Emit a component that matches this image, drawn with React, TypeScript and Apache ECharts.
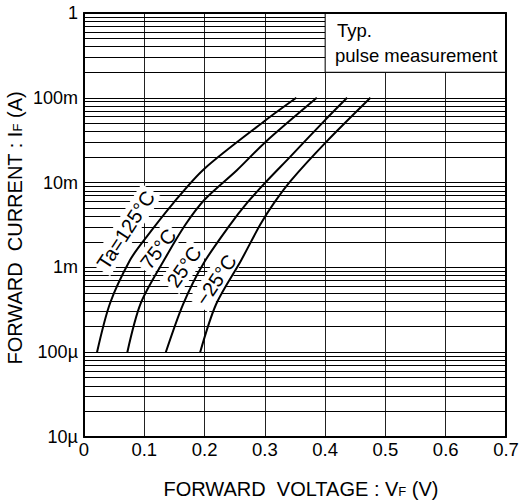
import React, { useEffect, useRef } from "react";
import * as echarts from "echarts";

// Forward voltage (V) / forward current (A) per ambient temperature
const V_125 = [0.0216, 0.0432, 0.0764, 0.0997, 0.1478, 0.1993, 0.3007, 0.3522];
const I_125 = [1e-4, 3.78e-4, 1.22e-3, 2.1e-3, 5.7e-3, 1.45e-2, 5.4e-2, 0.1];

const V_75 = [0.0719, 0.0942, 0.1329, 0.1678, 0.201, 0.2536, 0.3007, 0.3862];
const I_75 = [1e-4, 3.78e-4, 1.22e-3, 3.16e-3, 6.4e-3, 1.4e-2, 3.0e-2, 0.1];

const V_25 = [0.1357, 0.1645, 0.1977, 0.2425, 0.2708, 0.3007, 0.3415, 0.4003, 0.4364];
const I_25 = [1e-4, 3.7e-4, 1.1e-3, 3.2e-3, 5.8e-3, 1.0e-2, 2.0e-2, 5.5e-2, 0.1];

const V_M25 = [0.1927, 0.2193, 0.2603, 0.2924, 0.3156, 0.3439, 0.4015, 0.4751];
const I_M25 = [1e-4, 3.7e-4, 1.2e-3, 3.2e-3, 5.8e-3, 1.07e-2, 3.0e-2, 0.1];

// curve labels (anchor in data coords)
const LABEL_TEXT = ["Ta=125°C", "75°C", "25°C", "−25°C"];
const LABEL_V = [0.0694, 0.123, 0.166, 0.219];
const LABEL_I = [2.76e-3, 1.65e-3, 1.02e-3, 7.1e-4];
const LABEL_ANGLE = [57, 52, 55, 56];

// axis ticks
const X_TICKS = [0, 0.1, 0.2, 0.3, 0.4, 0.5, 0.6, 0.7];
const Y_TICK_LABELS: Record<string, string> = {
  "-5": "10µ",
  "-4": "100µ",
  "-3": "1m",
  "-2": "10m",
  "-1": "100m",
  "0": "1",
};
const DECADES = [1e-5, 1e-4, 1e-3, 1e-2, 1e-1];
const MINOR_MULT = [2, 3, 4, 5, 6, 7, 8, 9];

// note box (data coords)
const BOX_V = [0.4, 0.7];
const BOX_I = [0.2, 1];

const FONT = "'Liberation Sans', Arial, sans-serif";

const zip = (v: number[], i: number[]) => v.map((x, k) => [x, i[k]]);

export default function App() {
  const ref = useRef<HTMLDivElement>(null);
  useEffect(() => {
    if (!ref.current) return;
    const chart = echarts.init(ref.current, undefined, { renderer: "svg" });
    const minorLines: any[] = [];
    DECADES.forEach((d) =>
      MINOR_MULT.forEach((m) => minorLines.push({ yAxis: d * m }))
    );
    const curve = (name: string, v: number[], i: number[]) => ({
      name,
      type: "line",
      data: zip(v, i),
      showSymbol: false,
      symbol: "none",
      smooth: 0.3,
      z: 6,
      lineStyle: { color: "#000", width: 2 },
      silent: true,
    });
    chart.setOption({
      animation: false,
      textStyle: { fontFamily: FONT },
      grid: {
        left: 84,
        top: 13,
        width: 422,
        height: 424,
        containLabel: false,
        outerBoundsMode: "none",
      },
      xAxis: [
        {
          type: "value",
          min: 0,
          max: 0.7,
          interval: 0.1,
          axisLine: { show: true, onZero: false, lineStyle: { color: "#000", width: 2 } },
          axisTick: { show: false },
          splitLine: { show: true, lineStyle: { color: "#222", width: 1 } },
          axisLabel: {
            color: "#000",
            fontSize: 18.5,
            fontFamily: FONT,
            margin: 3,
            formatter: (v: number) => {
              const t = X_TICKS.find((x) => Math.abs(x - v) < 1e-6);
              return t === 0 ? "0" : (t ?? v).toFixed(1);
            },
          },
        },
        {
          type: "value",
          position: "top",
          min: 0,
          max: 0.7,
          z: 10,
          axisLine: { show: true, onZero: false, lineStyle: { color: "#000", width: 2 } },
          axisTick: { show: false },
          axisLabel: { show: false },
          splitLine: { show: false },
        },
      ],
      yAxis: [
        {
          type: "log",
          logBase: 10,
          min: 1e-5,
          max: 1,
          axisLine: { show: true, onZero: false, lineStyle: { color: "#000", width: 2 } },
          axisTick: { show: false },
          splitLine: { show: true, lineStyle: { color: "#000", width: 1 } },
          axisLabel: {
            color: "#000",
            fontSize: 18,
            fontFamily: FONT,
            margin: 6,
            formatter: (v: number) => Y_TICK_LABELS[String(Math.round(Math.log10(v)))] ?? "",
          },
        },
        {
          type: "log",
          logBase: 10,
          min: 1e-5,
          max: 1,
          position: "right",
          z: 10,
          axisLine: { show: true, onZero: false, lineStyle: { color: "#000", width: 2 } },
          axisTick: { show: false },
          axisLabel: { show: false },
          splitLine: { show: false },
        },
      ],
      series: [
        {
          name: "minor",
          type: "line",
          data: [],
          z: 1,
          silent: true,
          markLine: {
            z: 1,
            silent: true,
            precision: 12,
            symbol: ["none", "none"],
            label: { show: false },
            lineStyle: { color: "#000", width: 1, type: "solid" },
            emphasis: { disabled: true },
            data: minorLines,
          },
        },
        {
          name: "box",
          type: "line",
          data: [],
          z: 3,
          silent: true,
          markArea: {
            z: 3,
            silent: true,
            itemStyle: { color: "#fff", borderColor: "#000", borderWidth: 1, opacity: 1 },
            label: { show: false },
            emphasis: { disabled: true },
            data: [[{ coord: [BOX_V[0], BOX_I[0]] }, { coord: [BOX_V[1], BOX_I[1]] }]],
          },
        },
        {
          name: "labels",
          type: "scatter",
          z: 4,
          silent: true,
          symbolSize: 1,
          itemStyle: { color: "rgba(0,0,0,0)", opacity: 1 },
          data: LABEL_V.map((v, k) => ({
            value: [v, LABEL_I[k]],
            label: {
              show: true,
              position: "inside",
              rotate: LABEL_ANGLE[k],
              formatter: LABEL_TEXT[k],
              fontSize: 20,
              fontFamily: FONT,
              color: "#000",
              opacity: 1,
              backgroundColor: "#fff",
              padding: [2, 3],
            },
          })),
        },
        curve("Ta=125°C", V_125, I_125),
        curve("75°C", V_75, I_75),
        curve("25°C", V_25, I_25),
        curve("-25°C", V_M25, I_M25),
      ],
      graphic: [
        {
          type: "text",
          x: 337,
          y: 30,
          z: 20,
          style: {
            text: "Typ.",
            fontSize: 18.5,
            fontFamily: FONT,
            fill: "#000",
            textVerticalAlign: "middle",
          },
        },
        {
          type: "text",
          x: 335,
          y: 55,
          z: 20,
          style: {
            text: "pulse measurement",
            fontSize: 18.5,
            fontFamily: FONT,
            fill: "#000",
            textVerticalAlign: "middle",
          },
        },
        {
          type: "text",
          x: 301,
          y: 489,
          style: {
            text: "FORWARD  VOLTAGE : V{s|F} (V)",
            rich: { s: { fontSize: 13, fontFamily: FONT, fill: "#000", padding: [4, 0, 0, 0] } },
            fontSize: 20,
            fontFamily: FONT,
            fill: "#000",
            textAlign: "center",
            textVerticalAlign: "middle",
          },
        },
        {
          type: "text",
          x: 15,
          y: 228,
          rotation: Math.PI / 2,
          style: {
            text: "FORWARD  CURRENT : I{s|F} (A)",
            rich: { s: { fontSize: 13, fontFamily: FONT, fill: "#000", padding: [4, 0, 0, 0] } },
            fontSize: 20,
            fontFamily: FONT,
            fill: "#000",
            textAlign: "center",
            textVerticalAlign: "middle",
          },
        },
      ],
    });
    return () => chart.dispose();
  }, []);
  return (
    <div
      ref={ref}
      style={{ position: "absolute", left: 0, top: 0, width: 520, height: 504, background: "#fff" }}
    />
  );
}
